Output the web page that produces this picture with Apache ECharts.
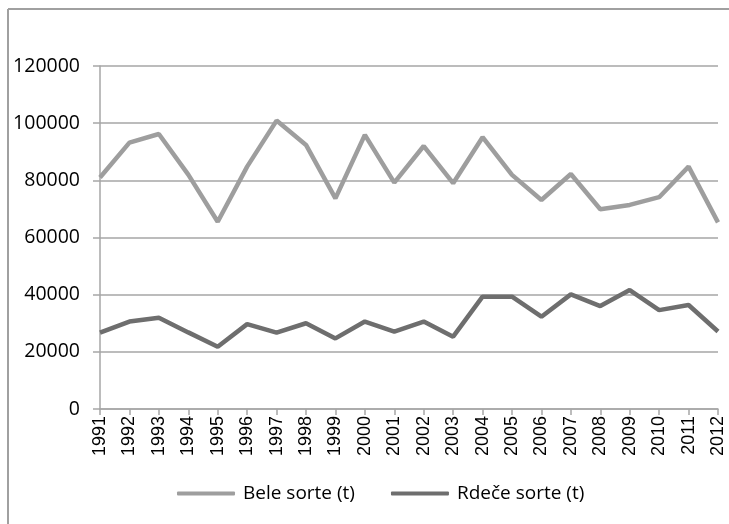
<!DOCTYPE html>
<html><head><meta charset="utf-8">
<script src="https://cdn.jsdelivr.net/npm/echarts@6/dist/echarts.min.js"></script>
<style>html,body{margin:0;padding:0;background:#fff}#c{width:729px;height:524px}</style>
</head><body><div id="c"></div>
<script>
var years = ['1991','1992','1993','1994','1995','1996','1997','1998','1999','2000','2001','2002','2003','2004','2005','2006','2007','2008','2009','2010','2011','2012'];
var bele = [81000,93200,96200,82000,65500,84800,100900,92400,73700,95900,79200,92000,79000,95100,81900,73100,82200,69900,71400,74100,84800,65300];
var rdece = [26700,30600,31900,26800,21800,29700,26700,30000,24700,30600,27100,30600,25300,39300,39300,32300,40100,36000,41600,34600,36400,27100];
var yTicks = [0,20000,40000,60000,80000,100000,120000];

var chart = echarts.init(document.getElementById('c'));
chart.setOption({
  animation:false,
  graphic:[
    {type:'line',shape:{x1:8,y1:9,x2:729,y2:9},style:{stroke:'#a0a0a0',lineWidth:2}},
    {type:'line',shape:{x1:8,y1:9,x2:8,y2:524},style:{stroke:'#a0a0a0',lineWidth:2}}
  ],
  grid:{left:100,right:11,top:66,bottom:115,containLabel:false},
  legend:{
    bottom:16,left:172,itemWidth:58,itemHeight:4,itemGap:36,
    icon:'roundRect',
    textStyle:{fontFamily:'Open Sans',fontSize:19,color:'#000',padding:[0,0,0,3]},
    data:['Bele sorte (t)','Rdeče sorte (t)']
  },
  xAxis:{
    type:'category',data:years,boundaryGap:false,
    axisLine:{lineStyle:{color:'#a6a6a6',width:1.5}},
    axisTick:{show:true,length:6,alignWithLabel:true,lineStyle:{color:'#a6a6a6',width:1.5}},
    axisLabel:{rotate:90,interval:0,fontFamily:'Liberation Sans',fontSize:18,color:'#000',margin:7}
  },
  yAxis:{
    type:'value',min:yTicks[0],max:yTicks[yTicks.length-1],interval:20000,
    axisLine:{show:true,lineStyle:{color:'#a6a6a6',width:1.5}},
    axisTick:{show:true,length:7,lineStyle:{color:'#a6a6a6',width:1.5}},
    splitLine:{lineStyle:{color:'#a6a6a6',width:1.5}},
    axisLabel:{fontFamily:'Open Sans',fontSize:19.5,color:'#000',margin:20,formatter:function(v){return String(v);}}
  },
  series:[
    {name:'Bele sorte (t)',type:'line',data:bele,symbol:'none',lineStyle:{color:'#9e9e9e',width:4.5},itemStyle:{color:'#9e9e9e'}},
    {name:'Rdeče sorte (t)',type:'line',data:rdece,symbol:'none',lineStyle:{color:'#6e6e6e',width:4.5},itemStyle:{color:'#6e6e6e'}}
  ]
});
</script></body></html>
